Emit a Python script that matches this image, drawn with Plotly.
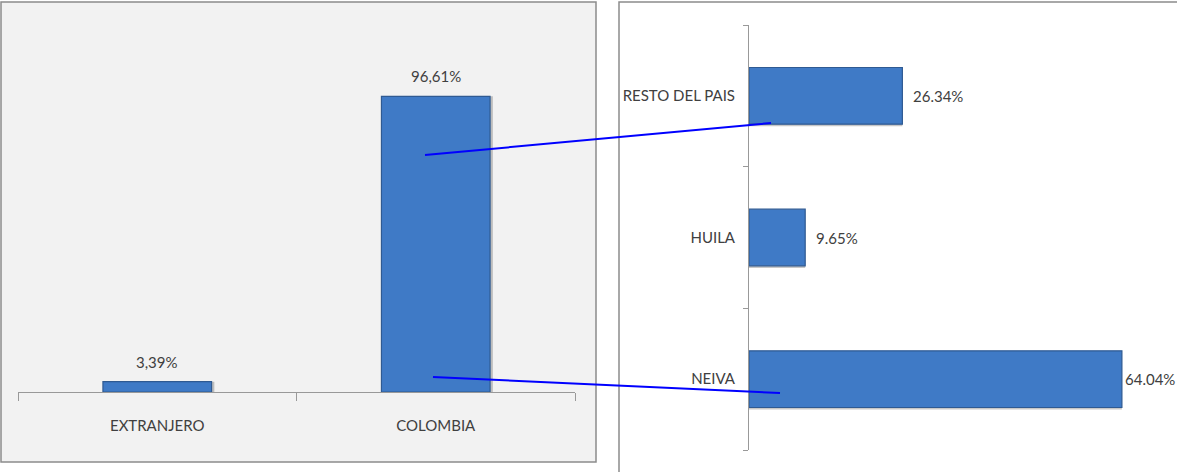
import plotly.graph_objects as go

W, H = 1177, 472

# Left chart data
origen_cats = ["EXTRANJERO", "COLOMBIA"]
origen_vals = [3.39, 96.61]
origen_text = ["3,39%", "96,61%"]

# Right chart data
region_cats = ["NEIVA", "HUILA", "RESTO DEL PAIS"]
region_vals = [64.04, 9.65, 26.34]
region_text = ["64.04%", "9.65%", "26.34%"]

FONT = "Lato, Open Sans, sans-serif"
TXT = "#404040"
BAR = "#3f7ac6"
BAR_LINE = "#2f5a92"

X2_MAX = 73.5

def px(x):
    return x / W

def py(y):
    return (H - y) / H

fig = go.Figure()

# soft shadows
fig.add_trace(go.Bar(
    x=origen_cats, y=origen_vals, width=0.39, offset=-0.185,
    marker=dict(color="rgba(0,0,0,0.22)", line=dict(width=0)),
    xaxis="x", yaxis="y", showlegend=False, hoverinfo="skip",
))
fig.add_trace(go.Bar(
    x=origen_cats, y=origen_vals,
    marker=dict(color=BAR, line=dict(color=BAR_LINE, width=1.2)),
    width=0.39, xaxis="x", yaxis="y", showlegend=False,
))

fig.add_trace(go.Bar(
    y=region_cats, x=region_vals, orientation="h", width=0.4, offset=-0.215,
    marker=dict(color="rgba(0,0,0,0.22)", line=dict(width=0)),
    xaxis="x2", yaxis="y2", showlegend=False, hoverinfo="skip",
))
fig.add_trace(go.Bar(
    y=region_cats, x=region_vals, orientation="h",
    marker=dict(color=BAR, line=dict(color=BAR_LINE, width=1.2)),
    width=0.4, xaxis="x2", yaxis="y2", showlegend=False,
))

annotations = []
for c, v, t in zip(origen_cats, origen_vals, origen_text):
    annotations.append(dict(x=c, y=v, xref="x", yref="y", text=t, showarrow=False,
                            yanchor="bottom", yshift=9,
                            font=dict(family=FONT, size=15, color=TXT)))
for c, v, t in zip(region_cats, region_vals, region_text):
    shift = 9 if v < 0.8 * X2_MAX else 1
    annotations.append(dict(x=v, y=c, xref="x2", yref="y2", text=t, showarrow=False,
                            xanchor="left", xshift=shift,
                            font=dict(family=FONT, size=15, color=TXT)))

shapes = [
    # left panel background and border
    dict(type="rect", xref="paper", yref="paper", x0=px(1), x1=px(596), y0=py(462), y1=py(2),
         fillcolor="#f2f2f2", line=dict(color="#8c8c8c", width=1.5), layer="below"),
    # right panel border
    dict(type="rect", xref="paper", yref="paper", x0=px(619), x1=px(1180), y0=py(476), y1=py(2),
         fillcolor="white", line=dict(color="#8c8c8c", width=1.5), layer="below"),
    # connector lines
    dict(type="line", xref="paper", yref="paper", x0=px(425), y0=py(155), x1=px(771), y1=py(123),
         line=dict(color="#0000ff", width=2)),
    dict(type="line", xref="paper", yref="paper", x0=px(433), y0=py(377), x1=px(780), y1=py(393),
         line=dict(color="#0000ff", width=2)),
]

fig.update_layout(
    width=W, height=H,
    margin=dict(l=0, r=0, t=0, b=0),
    paper_bgcolor="white", plot_bgcolor="rgba(0,0,0,0)",
    font=dict(family=FONT, size=15, color=TXT),
    shapes=shapes, annotations=annotations,
    barmode="overlay",
    xaxis=dict(domain=[px(18), px(575)], type="category",
               categoryorder="array", categoryarray=origen_cats,
               showline=True, linecolor="#999999", linewidth=1.2,
               ticks="outside", tickson="boundaries", ticklen=8, tickcolor="#999999",
               ticklabelstandoff=20, showgrid=False, zeroline=False,
               tickfont=dict(family=FONT, size=15, color=TXT)),
    yaxis=dict(domain=[py(392), py(86)], range=[0, 100], visible=False),
    xaxis2=dict(domain=[px(749), 1.0], range=[0, X2_MAX], visible=False),
    yaxis2=dict(domain=[py(450), py(25)], type="category", anchor="x2",
                categoryorder="array", categoryarray=region_cats,
                showline=True, linecolor="#999999", linewidth=1,
                ticks="outside", tickson="boundaries", ticklen=5, tickcolor="#999999",
                ticklabelstandoff=10, showgrid=False, zeroline=False,
                tickfont=dict(family=FONT, size=15, color=TXT)),
)

fig.write_html("out.html", config={"displayModeBar": False},
               post_script="document.body.style.margin='0px';document.body.style.overflow='hidden';")
